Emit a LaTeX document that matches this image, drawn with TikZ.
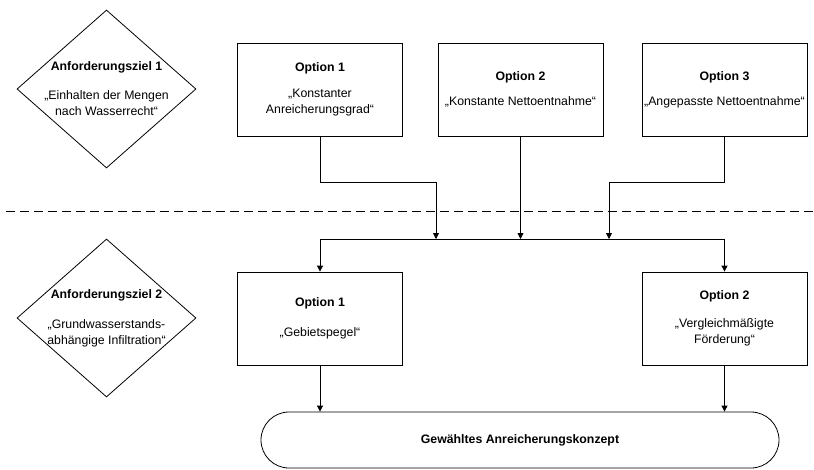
\documentclass[tikz,border=0pt]{standalone}
\usepackage{fontspec}
\setmainfont{Liberation Sans}
\usetikzlibrary{shapes.geometric, arrows.meta, positioning}

\begin{document}
\begin{tikzpicture}[
  x=1pt, y=-1pt,
  font=\fontsize{12.3}{16}\selectfont,
  optbox/.style={draw, line width=0.8pt, minimum width=165pt, minimum height=93pt, align=center, inner sep=2pt},
  goal/.style={draw, diamond, line width=0.8pt, aspect=1.13, inner sep=-6pt, minimum width=179pt, minimum height=158pt, align=center},
  term/.style={draw, line width=0.8pt, rounded corners=28pt, minimum width=518pt, minimum height=56pt, align=center},
  flow/.style={-{Triangle[length=6pt, width=6pt]}, line width=0.8pt},
  sep/.style={line width=0.8pt, dash pattern=on 9pt off 5pt},
]
  \useasboundingbox (0,0) rectangle (814,469);

  % Goals
  \node[goal] (goal1) at (106.5,89) {\textbf{Anforderungsziel 1}\\[13pt]„Einhalten der Mengen\\nach Wasserrecht“};
  \node[goal] (goal2) at (106.5,318) {\textbf{Anforderungsziel 2}\\[14pt]„Grundwasserstands-\\abhängige Infiltration“};

  % Options goal 1
  \node[optbox] (top1) at (320,89.5) {\textbf{Option 1}\\[10pt]„Konstanter\\Anreicherungsgrad“};
  \node[optbox] (top2) at (520.5,89.5) {\textbf{Option 2}\\[9pt]„Konstante Nettoentnahme“};
  \node[optbox] (top3) at (724.5,89.5) {\textbf{Option 3}\\[9pt]„Angepasste Nettoentnahme“};

  % Options goal 2
  \node[optbox] (bot1) at (320,318.5) {\textbf{Option 1}\\[14pt]„Gebietspegel“};
  \node[optbox] (bot2) at (724.5,318.5) {\textbf{Option 2}\\[12pt]„Vergleichmäßigte\\Förderung“};

  % Result
  \node[term] (term) at (520,440) {\textbf{Gewähltes Anreicherungskonzept}};

  % Separator
  \coordinate (sepL) at (6,211);
  \coordinate (sepR) at (814,211);
  \draw[sep] (sepL) -- (sepR);

  % Joins on the bar
  \coordinate (in1) at (436,239);
  \coordinate (in2) at (520.5,239);
  \coordinate (in3) at (609,239);

  \draw[flow] (top1.south) -- ++(0,46) -| (in1);
  \draw[flow] (top2.south) -- (in2);
  \draw[flow] (top3.south) -- ++(0,46) -| (in3);

  \draw[flow] (in2) -| (bot1.north);
  \draw[flow] (in2) -| (bot2.north);

  \draw[flow] (bot1.south) -- (bot1.south |- term.north);
  \draw[flow] (bot2.south) -- (bot2.south |- term.north);
\end{tikzpicture}
\end{document}
